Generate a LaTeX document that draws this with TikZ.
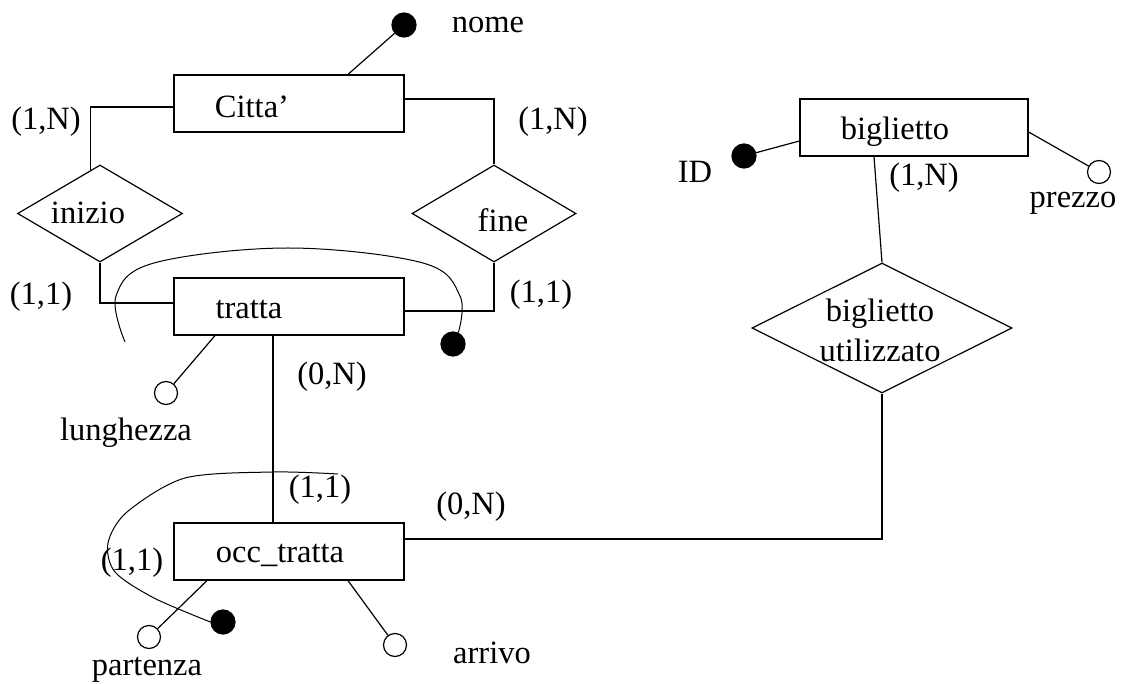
\documentclass[tikz,border=0pt]{standalone}
\usepackage{fontspec}
\setmainfont{Liberation Serif}
\usetikzlibrary{shapes.geometric,calc}
\begin{document}
\begin{tikzpicture}[x=1pt,y=-1pt,line width=1.2pt,
  entity/.style={draw,rectangle,minimum width=230pt,minimum height=57pt,inner sep=0pt},
  relation/.style={draw,diamond,inner sep=0pt},
  lbl/.style={inner sep=0pt,font=\fontsize{32.5}{38}\selectfont},
  keyattr/.style={circle,draw,fill=black,inner sep=0pt,minimum size=24pt},
  attr/.style={circle,draw,fill=white,inner sep=0pt,minimum size=23pt},
  idcurve/.style={line width=1pt}]
\useasboundingbox (0,0) rectangle (1125,684);

% entities
\node[entity] (citta) at (289,103.5) {};
\node[entity] (tratta) at (289,306.5) {};
\node[entity] (occ) at (289,551.5) {};
\node[entity,minimum width=228pt] (bigl) at (914,127.5) {};

% relationships
\node[relation,minimum width=165pt,minimum height=97pt] (inizio) at (100,213.5) {};
\node[relation,minimum width=164pt,minimum height=97pt] (fine) at (494,213.5) {};
\node[relation,minimum width=260pt,minimum height=130pt] (usato) at (882,328) {};

% attributes
\node[keyattr] (nome) at (404,25) {};
\node[attr] (lungh) at (166,393) {};
\node[attr] (part) at (149,637) {};
\node[attr] (arr) at (395,645) {};
\node[keyattr] (id) at (744,156) {};
\node[attr] (prezzo) at (1099,172) {};
\node[keyattr] (tid) at (453,344) {};
\node[keyattr] (oid) at (223,622) {};

% relationship links
\coordinate (inizioin) at ($(inizio.north)!0.11!(inizio.west)$);
\draw ([yshift=-3.5pt]citta.west) -| (inizioin);
\draw ([yshift=4.5pt]citta.east) -| (fine.north);
\draw (inizio.south) |- ([yshift=3.5pt]tratta.west);
\draw (fine.south) |- ([yshift=-4.5pt]tratta.east);
\draw ([xshift=-16pt]tratta.south) -- ([xshift=-16pt]occ.north);
\draw ([yshift=12.5pt]occ.east) -| (usato.south);
\draw ([xshift=-40pt]bigl.south) -- (usato.north);

% attribute links
\draw ([xshift=59pt]citta.north) -- (nome);
\draw ([xshift=-74pt]tratta.south) -- (lungh);
\draw ([xshift=-82pt]occ.south) -- (part);
\draw ([xshift=59pt]occ.south) -- (arr);
\draw ([yshift=-13.5pt]bigl.west) -- (id);
\draw ([yshift=-4.5pt]bigl.east) -- (prezzo);

% external identifiers
\coordinate (tstart) at (125,342);
\draw[idcurve] plot[smooth,tension=0.6] coordinates
  {(tstart) (116,296) (154,263) (288,248) (423,263) (460,296) (tid.65)};
\coordinate (ostart) at (338,474);
\draw[idcurve] plot[smooth,tension=0.5] coordinates
  {(ostart) (273,472) (185,478) (127,512) (108,543) (115,572) (154,598) (oid.west)};

% texts
\node[lbl] (tnome) at (488,25) {nome};
\node[lbl] (tcitta) at (252,107) {Citta'};
\node[lbl] (c1) at (46,122) {(1,N)};
\node[lbl] (c2) at (553,122) {(1,N)};
\node[lbl] (tinizio) at (88,213) {inizio};
\node[lbl] (tfine) at (503,220) {fine};
\node[lbl] (c3) at (41,297) {(1,1)};
\node[lbl] (c4) at (541,295) {(1,1)};
\node[lbl] (ttratta) at (249,310) {tratta};
\node[lbl] (c5) at (332,377) {(0,N)};
\node[lbl] (tlungh) at (126,433) {lunghezza};
\node[lbl] (c6) at (320,490) {(1,1)};
\node[lbl] (c7) at (471,507) {(0,N)};
\node[lbl] (tocc) at (280,555) {occ\_tratta};
\node[lbl] (c8) at (132,563) {(1,1)};
\node[lbl] (tpart) at (147,670) {partenza};
\node[lbl] (tarr) at (492,653) {arrivo};
\node[lbl] (tbigl) at (895,132) {biglietto};
\node[lbl] (tid) at (695,172) {ID};
\node[lbl] (c9) at (924,178) {(1,N)};
\node[lbl] (tprezzo) at (1073,203) {prezzo};
\node[lbl,align=center,font=\fontsize{32.5}{40}\selectfont] (tusato) at (880,330) {biglietto\\utilizzato};
\end{tikzpicture}
\end{document}
